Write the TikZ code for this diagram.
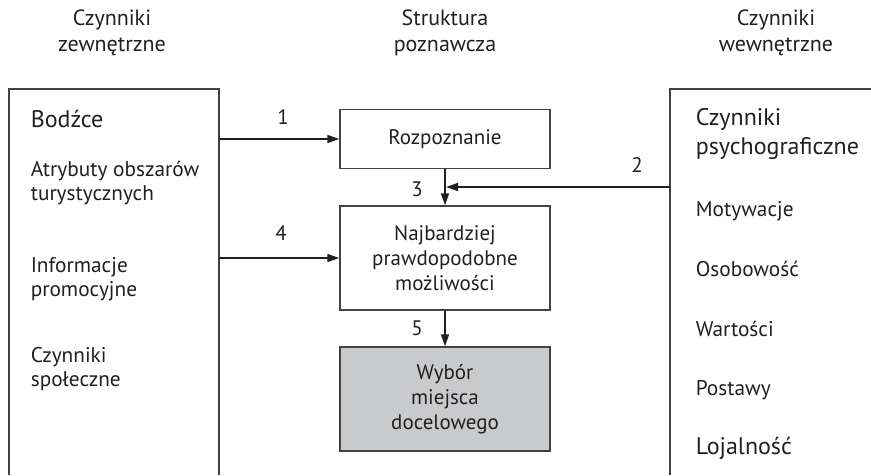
\documentclass[tikz,border=0pt]{standalone}
\usepackage{fontspec}
\setmainfont{PT Sans}
\usetikzlibrary{arrows.meta}
\definecolor{ink}{HTML}{231F20}
\definecolor{boxgray}{HTML}{C9CACC}
\begin{document}
\begin{tikzpicture}[x=1pt,y=-1pt,line width=1.6pt,
  every node/.style={text=ink},
  frame/.style={draw=ink!85,line width=1.4pt},
  stage/.style={draw=ink!85,line width=1.4pt,minimum width=210pt,align=center,inner sep=0pt,
    font=\fontsize{21}{25}\selectfont},
  arr/.style={draw=ink,-{Triangle[length=12pt,width=8pt]}},
  num/.style={font=\fontsize{21}{24}\selectfont},
  head/.style={align=center,font=\fontsize{22}{26}\selectfont},
  item/.style={anchor=west,align=left,inner sep=0pt,font=\fontsize{21.3}{24}\selectfont},
  bigitem/.style={anchor=west,align=left,inner sep=0pt,font=\fontsize{24}{29}\selectfont}]
\useasboundingbox (0,0) rectangle (871,475);

% column headings
\node[head] (hL) at (112,33) {Czynniki\\zewnętrzne};
\node[head] (hM) at (445,33) {Struktura\\poznawcza};
\node[head] (hR) at (776,33) {Czynniki\\wewnętrzne};

% external factors frame (open at the bottom)
\draw[frame] (9,475) -- (9,89) -- (219,89) -- (219,475);
\node[bigitem] (bodz) at (30,119) {Bodźce};
\node[item] (atr) at (30,183) {Atrybuty obszarów\\turystycznych};
\node[item] (inf) at (30,279.5) {Informacje\\promocyjne};
\node[item] (spo) at (30,369) {Czynniki\\społeczne};

% internal factors frame (open at the bottom and right)
\draw[frame] (871,89) -- (670,89) -- (670,475);
\node[bigitem] (psy) at (695,133.5) {Czynniki\\psychograficzne};
\node[item] (mot) at (695,211) {Motywacje};
\node[item] (oso) at (695,269) {Osobowość};
\node[item] (war) at (695,329) {Wartości};
\node[item] (pos) at (695,390) {Postawy};
\node[bigitem] (loj) at (695,448) {Lojalność};

% cognitive structure
\node[stage,minimum height=59pt] (rozp) at (445,139) {Rozpoznanie};
\node[stage,minimum height=104pt] (naj) at (445,258) {Najbardziej\\prawdopodobne\\możliwości};
\node[stage,minimum height=104pt,fill=boxgray] (wyb) at (445,399) {Wybór\\miejsca\\docelowego};

% connector end points on the frames
\coordinate (e1) at (219,139);
\coordinate (e4) at (219,258);
\coordinate (e2) at (670,187);
\coordinate (j3) at (446,187);

\draw[arr] (e1) -- (rozp.west);
\draw[arr] (e4) -- (naj.west);
\draw[arr] (rozp.south) -- (naj.north);
\draw[arr] (e2) -- (j3);
\draw[arr] (naj.south) -- (wyb.north);

% connector numbers
\node[num] (n1) at (283,117) {1};
\node[num] (n2) at (637,165) {2};
\node[num] (n3) at (417,189) {3};
\node[num] (n4) at (281,233) {4};
\node[num] (n5) at (417,328) {5};
\end{tikzpicture}
\end{document}
